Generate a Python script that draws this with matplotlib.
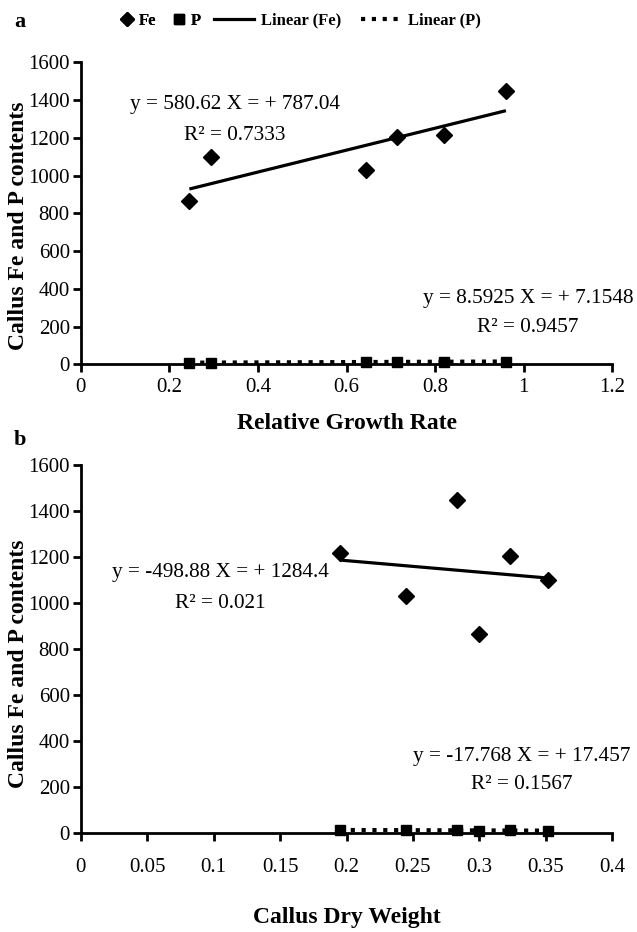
import numpy as np
import matplotlib
matplotlib.use("Agg")
import matplotlib.pyplot as plt
from matplotlib.lines import Line2D

plt.rcParams['font.family'] = ['Liberation Serif', 'DejaVu Serif']

# ---- panel a: relative growth rate ----
rgr = [0.245, 0.295, 0.645, 0.715, 0.82, 0.96]
fe_a = [865, 1100, 1030, 1205, 1218, 1450]
p_a = [9.0, 10.0, 12.9, 13.0, 14.5, 15.3]
fit_fe_a = (580.62, 787.04)
fit_p_a = (8.5925, 7.1548)

# ---- panel b: callus dry weight ----
dw = [0.195, 0.245, 0.283, 0.30, 0.323, 0.352]
fe_b = [1218, 1030, 1450, 865, 1205, 1100]
p_b = [14.5, 12.9, 15.3, 9.0, 13.0, 10.0]
fit_fe_b = (-498.88, 1284.4)
fit_p_b = (-17.768, 17.457)

yticks = [0, 200, 400, 600, 800, 1000, 1200, 1400, 1600]
xticks_a = [0, 0.2, 0.4, 0.6, 0.8, 1, 1.2]
xticks_b = [0, 0.05, 0.1, 0.15, 0.2, 0.25, 0.3, 0.35, 0.4]

DOTS = (0, (1, 1.6))

fig = plt.figure(figsize=(6.37, 9.32), dpi=100)
ax_a = fig.add_axes([0.127, 0.609, 0.834, 0.324])
ax_b = fig.add_axes([0.127, 0.106, 0.834, 0.395])


def draw_panel(ax, x, fe, p, fit_fe, fit_p, xticks, xlabel, xpad, xlab_y):
    x = np.array(x)
    xs = np.array([x.min(), x.max()])
    ax.plot(xs, fit_fe[0] * xs + fit_fe[1], color='black', lw=2.3, solid_capstyle='butt')
    ax.plot(xs, fit_p[0] * xs + fit_p[1], color='black', lw=3, linestyle=DOTS)
    ax.plot(x, fe, linestyle='none', marker='D', ms=7.8, color='black', clip_on=False)
    ax.plot(x, p, linestyle='none', marker='s', ms=7.5, color='black', clip_on=False)

    ax.set_xlim(xticks[0], xticks[-1])
    ax.set_ylim(0, 1600)
    ax.set_xticks(xticks)
    ax.set_xticklabels([f"{t:g}" for t in xticks])
    ax.set_yticks(yticks)
    for s in ['top', 'right']:
        ax.spines[s].set_visible(False)
    for s in ['left', 'bottom']:
        ax.spines[s].set_linewidth(2)
    ax.tick_params(axis='both', direction='out', length=6, width=2, labelsize=15)
    ax.tick_params(axis='x', pad=xpad)
    ax.tick_params(axis='y', pad=2)
    ax.set_ylabel("Callus Fe and P contents", fontsize=17, fontweight='bold')
    ax.yaxis.set_label_coords(-0.098, 0.46)
    ax.set_xlabel(xlabel, fontsize=17, fontweight='bold')
    ax.xaxis.set_label_coords(0.5, xlab_y)


draw_panel(ax_a, rgr, fe_a, p_a, fit_fe_a, fit_p_a, xticks_a,
           "Relative Growth Rate", 4, -0.16)
draw_panel(ax_b, dw, fe_b, p_b, fit_fe_b, fit_p_b, xticks_b,
           "Callus Dry Weight", 12, -0.2)

# equations (trendline labels)
ax_a.text(0.348, 1375, "y = 580.62 X = + 787.04", fontsize=15.3, ha='center', va='center')
ax_a.text(0.348, 1215, "R² = 0.7333", fontsize=15.3, ha='center', va='center')
ax_a.text(1.01, 350, "y = 8.5925 X = + 7.1548", fontsize=15.3, ha='center', va='center')
ax_a.text(1.01, 195, "R² = 0.9457", fontsize=15.3, ha='center', va='center')

ax_b.text(0.105, 1135, "y = -498.88 X = + 1284.4", fontsize=15.3, ha='center', va='center')
ax_b.text(0.105, 1000, "R² = 0.021", fontsize=15.3, ha='center', va='center')
ax_b.text(0.332, 335, "y = -17.768 X = + 17.457", fontsize=15.3, ha='center', va='center')
ax_b.text(0.332, 210, "R² = 0.1567", fontsize=15.3, ha='center', va='center')

# panel letters
fig.text(0.022, 0.976, "a", fontsize=16, fontweight='bold', va='center')
fig.text(0.022, 0.528, "b", fontsize=16, fontweight='bold', va='center')

# legend: markers with short handles, trendlines with long handles
lprop = {'family': 'Liberation Serif', 'weight': 'bold', 'size': 12}
mark_handles = [
    Line2D([], [], linestyle='none', marker='D', ms=7.5, color='black'),
    Line2D([], [], linestyle='none', marker='s', ms=7.5, color='black'),
]
line_handles = [
    Line2D([], [], color='black', lw=2.3),
    Line2D([], [], color='black', lw=3, linestyle=DOTS),
]
leg1 = fig.legend(mark_handles, ["Fe", "P"], loc='center', bbox_to_anchor=(0.252, 0.978),
                  ncol=2, frameon=False, prop=lprop, handlelength=0.8,
                  handletextpad=0.3, columnspacing=1.0)
fig.legend(line_handles, ["Linear (Fe)", "Linear (P)"], loc='center',
           bbox_to_anchor=(0.545, 0.978), ncol=2, frameon=False, prop=lprop,
           handlelength=2.4, handletextpad=0.4, columnspacing=1.2)
fig.add_artist(leg1)

fig.savefig("out.png", dpi=100)
